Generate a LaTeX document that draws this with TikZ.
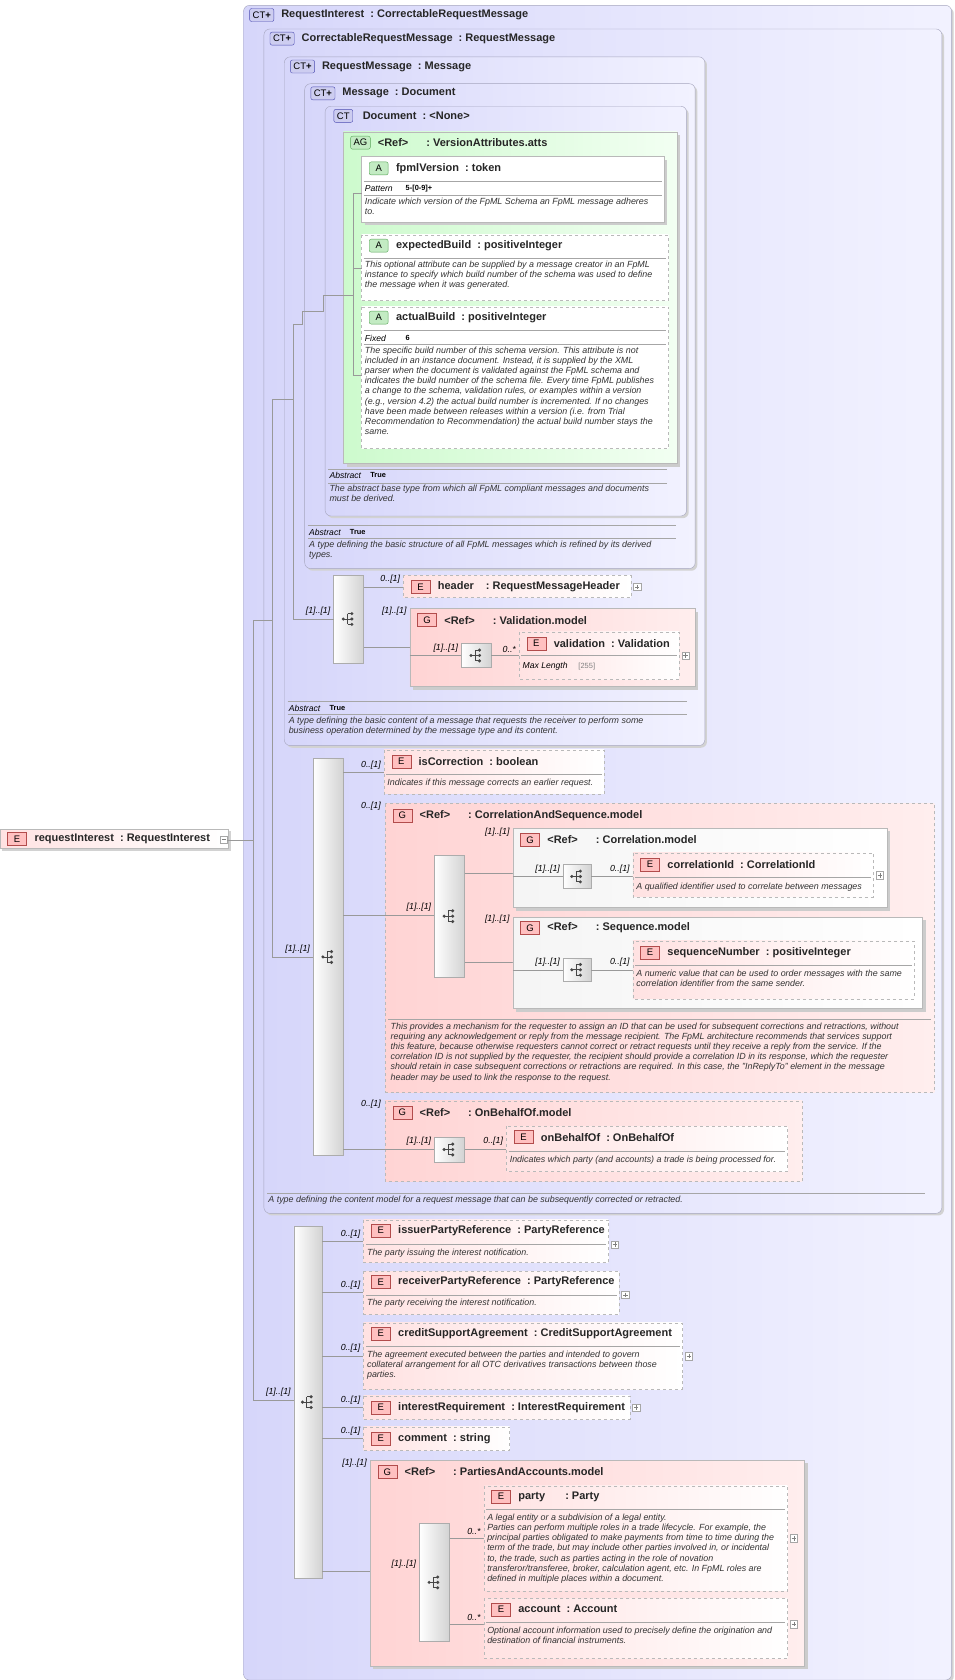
\documentclass[tikz,border=0pt]{standalone}
\usepackage{fontspec}
\setmainfont{Liberation Sans}
\definecolor{ctA}{RGB}{214,214,250}
\definecolor{ctB}{RGB}{242,242,255}
\definecolor{ctline}{RGB}{165,165,190}
\definecolor{ctbadge}{RGB}{205,205,240}
\definecolor{agA}{RGB}{205,250,205}
\definecolor{agB}{RGB}{242,255,242}
\definecolor{grA}{RGB}{255,212,212}
\definecolor{grB}{RGB}{255,238,238}
\definecolor{elA}{RGB}{255,226,226}
\definecolor{ebadge}{RGB}{255,192,192}
\definecolor{abadge}{RGB}{195,235,195}
\definecolor{iconc}{RGB}{70,70,70}
\tikzset{
  ctbg/.style={left color=ctA,right color=ctB,draw=ctline,rounded corners=6pt},
  agbg/.style={left color=agA,right color=agB,draw=gray!55},
  grbg/.style={left color=grA,right color=grB,draw=gray!55},
  grdash/.style={left color=grA,right color=grB,draw=gray!55,dashed},
  wgbg/.style={left color=gray!8,right color=white,draw=gray!55},
  elsolid/.style={left color=elA,right color=white,draw=gray!55},
  eldash/.style={left color=elA,right color=white,draw=gray!55,dashed},
  atsolid/.style={left color=white,right color=white,draw=gray!55},
  atdash/.style={left color=white,right color=white,draw=gray!55,dashed},
  seq/.style={left color=white,right color=gray!35,draw=gray!65},
  link/.style={draw=gray!80,line width=.5pt},
  sep/.style={draw=gray!70,line width=.5pt},
  badge/.style={draw,rounded corners=2pt,inner xsep=3pt,inner ysep=1pt,
    minimum height=13pt,minimum width=19pt,font=\fontsize{9.5}{9.5}\selectfont},
  bCT/.style={fill=ctbadge,draw=gray!60!blue},
  bE/.style={fill=ebadge,draw=red!40!gray,rounded corners=0pt},
  bA/.style={fill=abadge,draw=green!30!gray},
  ttl/.style={anchor=west,inner sep=0pt,font=\bfseries\fontsize{11}{12}\selectfont,text=black!85},
  dsc/.style={anchor=north west,align=left,inner sep=0pt,
    font=\itshape\fontsize{8.9}{10.2}\selectfont,text=black!80},
  card/.style={anchor=south east,inner sep=1pt,font=\itshape\fontsize{8.8}{9}\selectfont},
  key/.style={anchor=west,inner sep=0pt,font=\itshape\fontsize{8.6}{9}\selectfont},
  val/.style={anchor=west,inner sep=0pt,font=\bfseries\fontsize{7.4}{8}\selectfont}
}
\newcommand{\ctbox}[6]{%
\fill[gray!35,rounded corners=6pt] (#1+2,#2+2) rectangle (#3+2,#4+2);
\shade[ctbg] (#1,#2) rectangle (#3,#4);
\node[badge,bCT] at (#1+17,#2+9) {#5};
\node[ttl] at (#1+35,#2+9) {#6};
}
\newcommand{\drawbox}[5]{%
\shade[#1] (#2,#3) rectangle (#4,#5);
}
\newcommand{\shadowbox}[4]{%
\fill[gray!40] (#1+3,#2+3) rectangle (#3+3,#4+3);
}
\newcommand{\boxtitle}[5]{%
\node[badge,#3] at (#1+16,#2) {#4};
\node[ttl] at (#1+32,#2) {#5};
}
\newcommand{\desc}[3]{%
\node[dsc] at (#1,#2-5) {#3};
}
\newcommand{\sepline}[3]{%
\draw[sep] (#1,#3) -- (#2,#3);
}
\newcommand{\prop}[4]{%
\node[key] at (#1,#2) {#3};
\node[val] at (#1+38,#2) {#4};
}
\newcommand{\card}[3]{%
\node[card] at (#1,#2) {#3};
}
\newcommand{\plusbox}[2]{%
\draw[fill=white,draw=gray!70] (#1-3.5,#2-3.5) rectangle ++(7,7);
\draw[gray] (#1-2,#2) -- (#1+2,#2) (#1,#2-2) -- (#1,#2+2);
}
\newcommand{\seqbox}[5]{%
\shade[seq] (#2,#3) rectangle (#4,#5);
\coordinate (#1) at ({(#2+#4)/2},{(#3+#5)/2});
\begin{scope}[shift={(#1)},iconc]
\draw[line width=.8pt] (-5,0) -- (-1,0) (-1,-5) -- (-1,5)
  (-1,-5) -- (3,-5) (-1,0) -- (3,0) (-1,5) -- (3,5);
\fill (-5,0) circle (1.7pt) (3,-5) circle (1.7pt) (3,0) circle (1.7pt) (3,5) circle (1.7pt);
\end{scope}
}
\begin{document}
\begin{tikzpicture}[x=1.073pt,y=-1.073pt]
\useasboundingbox[fill=white] (0,0) rectangle (890,1566);

% complex types
\ctbox{227}{5}{887}{1566}{CT\textbf{+}}{RequestInterest\ \ :\ CorrectableRequestMessage}
\ctbox{246}{27}{878}{1131}{CT\textbf{+}}{CorrectableRequestMessage\ \ :\ RequestMessage}
\ctbox{265}{53}{657}{695}{CT\textbf{+}}{RequestMessage\ \ :\ Message}
\ctbox{284}{78}{648}{530}{CT\textbf{+}}{Message\ \ :\ Document}
\ctbox{303}{99}{640}{481}{CT}{Document\ \ :\ <None>}

% attribute group
\shadowbox{320}{123}{631}{432}
\drawbox{agbg}{320}{123}{631}{432}
\boxtitle{320}{133}{bA}{AG}{<Ref>\hspace{18pt}:\ VersionAttributes.atts}

\shadowbox{337}{146}{619}{207}
\drawbox{atsolid}{337}{146}{619}{207}
\boxtitle{337}{157}{bA}{A}{fpmlVersion\ \ :\ token}
\sepline{339}{617}{169}
\prop{340}{176}{Pattern}{5-[0-9]+}
\sepline{339}{617}{182}
\desc{340}{189}{Indicate which version of the FpML Schema an FpML message adheres\\to.}

\drawbox{atdash}{337}{219}{623}{280}
\boxtitle{337}{229}{bA}{A}{expectedBuild\ \ :\ positiveInteger}
\sepline{339}{621}{241}
\desc{340}{248}{This optional attribute can be supplied by a message creator in an FpML\\instance to specify which build number of the schema was used to define\\the message when it was generated.}

\drawbox{atdash}{337}{286}{623}{418}
\boxtitle{337}{296}{bA}{A}{actualBuild\ \ :\ positiveInteger}
\sepline{339}{621}{308}
\prop{340}{315}{Fixed}{6}
\sepline{339}{621}{321}
\desc{340}{328}{The specific build number of this schema version. This attribute is not\\included in an instance document. Instead, it is supplied by the XML\\parser when the document is validated against the FpML schema and\\indicates the build number of the schema file. Every time FpML publishes\\a change to the schema, validation rules, or examples within a version\\(e.g., version 4.2) the actual build number is incremented. If no changes\\have been made between releases within a version (i.e. from Trial\\Recommendation to Recommendation) the actual build number stays the\\same.}

% attribute links
\draw[link] (301,275) -- (329,275);
\draw[link] (329,180) -- (329,350);
\draw[link] (329,180) -- (337,180) (329,250) -- (337,250) (329,350) -- (337,350);

% abstract notes
\sepline{306}{622}{437}
\prop{307}{443}{Abstract}{True}
\sepline{306}{622}{450}
\desc{307}{457}{The abstract base type from which all FpML compliant messages and documents\\must be derived.}

\sepline{287}{630}{490}
\prop{288}{496}{Abstract}{True}
\sepline{287}{630}{502}
\desc{288}{509}{A type defining the basic structure of all FpML messages which is refined by its derived\\types.}

% request message content
\seqbox{sqRM}{311}{536}{339}{618}
\card{309}{575}{[1]..[1]}
\drawbox{eldash}{376}{536}{588}{557}
\boxtitle{376}{547}{bE}{E}{header\hspace{12pt}:\ RequestMessageHeader}
\plusbox{594}{547}
\card{374}{545}{0..[1]}
\draw[link] (339,547) -- (376,547);

\shadowbox{382}{567}{648}{640}
\drawbox{grbg}{382}{567}{648}{640}
\boxtitle{382}{578}{bE}{G}{<Ref>\hspace{18pt}:\ Validation.model}
\card{380}{575}{[1]..[1]}
\draw[link] (339,603) -- (382,603);
\seqbox{sqVal}{430}{600}{458}{622}
\draw[link] (382,611) -- (430,611) (458,611) -- (484,611);
\card{428}{609}{[1]..[1]}
\card{482}{609}{0..*}
\drawbox{eldash}{484}{589}{633}{633}
\boxtitle{484}{600}{bE}{E}{validation\ \ :\ Validation}
\sepline{486}{631}{611}
\node[key] at (487,621) {Max Length};
\node[key,font=\fontsize{7.5}{8}\selectfont,text=gray] at (539,621) {[255]};
\plusbox{639}{611}

\sepline{268}{640}{654}
\prop{269}{660}{Abstract}{True}
\sepline{268}{640}{666}
\desc{269}{673}{A type defining the basic content of a message that requests the receiver to perform some\\business operation determined by the message type and its content.}

% correctable request message content
\seqbox{sqCRM}{292}{707}{320}{1077}
\card{290}{890}{[1]..[1]}
\draw[link] (320,720) -- (358,720);
\drawbox{eldash}{358}{699}{563}{740}
\boxtitle{358}{710}{bE}{E}{isCorrection\ \ :\ boolean}
\sepline{360}{561}{722}
\desc{361}{731}{Indicates if this message corrects an earlier request.}
\card{356}{718}{0..[1]}

\drawbox{grdash}{359}{749}{871}{1018}
\boxtitle{359}{760}{bE}{G}{<Ref>\hspace{18pt}:\ CorrelationAndSequence.model}
\card{356}{756}{0..[1]}
\draw[link] (320,853) -- (405,853);
\card{403}{851}{[1]..[1]}
\seqbox{sqCS}{405}{797}{433}{911}
\draw[link] (433,814) -- (478,814) (433,897) -- (478,897);

\shadowbox{478}{772}{827}{846}
\drawbox{wgbg}{478}{772}{827}{846}
\boxtitle{478}{783}{bE}{G}{<Ref>\hspace{18pt}:\ Correlation.model}
\card{476}{781}{[1]..[1]}
\seqbox{sqCor}{525}{806}{551}{828}
\draw[link] (478,817) -- (525,817) (551,817) -- (590,817);
\card{523}{815}{[1]..[1]}
\card{588}{815}{0..[1]}
\drawbox{eldash}{590}{795}{814}{836}
\boxtitle{590}{806}{bE}{E}{correlationId\ \ :\ CorrelationId}
\sepline{592}{812}{818}
\desc{593}{828}{A qualified identifier used to correlate between messages}
\plusbox{820}{816}

\shadowbox{478}{855}{860}{940}
\drawbox{wgbg}{478}{855}{860}{940}
\boxtitle{478}{865}{bE}{G}{<Ref>\hspace{18pt}:\ Sequence.model}
\card{476}{862}{[1]..[1]}
\seqbox{sqSeq}{525}{893}{551}{915}
\draw[link] (478,904) -- (525,904) (551,904) -- (590,904);
\card{523}{902}{[1]..[1]}
\card{588}{902}{0..[1]}
\drawbox{eldash}{590}{877}{852}{931}
\boxtitle{590}{888}{bE}{E}{sequenceNumber\ \ :\ positiveInteger}
\sepline{592}{850}{900}
\desc{593}{909}{A numeric value that can be used to order messages with the same\\correlation identifier from the same sender.}

\sepline{362}{868}{950}
\desc{364}{958}{This provides a mechanism for the requester to assign an ID that can be used for subsequent corrections and retractions, without\\requiring any acknowledgement or reply from the message recipient. The FpML architecture recommends that services support\\this feature, because otherwise requesters cannot correct or retract requests until they receive a reply from the service. If the\\correlation ID is not supplied by the requester, the recipient should provide a correlation ID in its response, which the requester\\should retain in case subsequent corrections or retractions are required. In this case, the "InReplyTo" element in the message\\header may be used to link the response to the request.}

\drawbox{grdash}{359}{1026}{748}{1101}
\boxtitle{359}{1037}{bE}{G}{<Ref>\hspace{18pt}:\ OnBehalfOf.model}
\card{356}{1034}{0..[1]}
\draw[link] (320,1071) -- (405,1071) (433,1071) -- (472,1071);
\card{403}{1069}{[1]..[1]}
\card{470}{1069}{0..[1]}
\seqbox{sqObo}{405}{1060}{433}{1083}
\drawbox{eldash}{472}{1050}{734}{1092}
\boxtitle{472}{1060}{bE}{E}{onBehalfOf\ \ :\ OnBehalfOf}
\sepline{474}{732}{1073}
\desc{475}{1082}{Indicates which party (and accounts) a trade is being processed for.}

\sepline{249}{862}{1112}
\desc{250}{1120}{A type defining the content model for a request message that can be subsequently corrected or retracted.}

% request interest content
\seqbox{sqRI}{274}{1143}{300}{1471}
\card{272}{1303}{[1]..[1]}
\draw[link] (300,1157) -- (339,1157) (300,1205) -- (339,1205) (300,1264) -- (339,1264)
  (300,1312) -- (339,1312) (300,1341) -- (339,1341) (300,1465) -- (391,1465);

\drawbox{eldash}{339}{1137}{567}{1177}
\boxtitle{339}{1147}{bE}{E}{issuerPartyReference\ \ :\ PartyReference}
\sepline{341}{565}{1160}
\desc{342}{1169}{The party issuing the interest notification.}
\plusbox{573}{1160}
\card{337}{1155}{0..[1]}

\drawbox{eldash}{339}{1185}{577}{1225}
\boxtitle{339}{1195}{bE}{E}{receiverPartyReference\ \ :\ PartyReference}
\sepline{341}{575}{1207}
\desc{342}{1216}{The party receiving the interest notification.}
\plusbox{583}{1207}
\card{337}{1203}{0..[1]}

\drawbox{eldash}{339}{1233}{636}{1295}
\boxtitle{339}{1243}{bE}{E}{creditSupportAgreement\ \ :\ CreditSupportAgreement}
\sepline{341}{634}{1255}
\desc{342}{1264}{The agreement executed between the parties and intended to govern\\collateral arrangement for all OTC derivatives transactions between those\\parties.}
\plusbox{642}{1264}
\card{337}{1262}{0..[1]}

\drawbox{eldash}{339}{1301}{587}{1323}
\boxtitle{339}{1312}{bE}{E}{interestRequirement\ \ :\ InterestRequirement}
\plusbox{593}{1312}
\card{337}{1310}{0..[1]}

\drawbox{eldash}{339}{1330}{475}{1352}
\boxtitle{339}{1341}{bE}{E}{comment\ \ :\ string}
\card{337}{1339}{0..[1]}

\shadowbox{345}{1361}{750}{1553}
\drawbox{grbg}{345}{1361}{750}{1553}
\boxtitle{345}{1372}{bE}{G}{<Ref>\hspace{18pt}:\ PartiesAndAccounts.model}
\card{343}{1369}{[1]..[1]}
\card{389}{1463}{[1]..[1]}
\seqbox{sqPA}{391}{1420}{419}{1530}
\draw[link] (419,1434) -- (451,1434) (419,1514) -- (451,1514);
\card{449}{1432}{0..*}
\card{449}{1512}{0..*}

\drawbox{eldash}{451}{1385}{734}{1483}
\boxtitle{451}{1395}{bE}{E}{party\hspace{20pt}:\ Party}
\sepline{453}{732}{1407}
\desc{454}{1416}{A legal entity or a subdivision of a legal entity.\\Parties can perform multiple roles in a trade lifecycle. For example, the\\principal parties obligated to make payments from time to time during the\\term of the trade, but may include other parties involved in, or incidental\\to, the trade, such as parties acting in the role of novation\\transferor/transferee, broker, calculation agent, etc. In FpML roles are\\defined in multiple places within a document.}
\plusbox{740}{1434}

\drawbox{eldash}{451}{1490}{734}{1546}
\boxtitle{451}{1500}{bE}{E}{account\ \ :\ Account}
\sepline{453}{732}{1512}
\desc{454}{1521}{Optional account information used to precisely define the origination and\\destination of financial instruments.}
\plusbox{740}{1514}

% tree links
\draw[link] (282,290) -- (301,290) -- (301,275);
\draw[link] (273,302) -- (282,302) -- (282,290);
\draw[link] (254,372) -- (273,372);
\draw[link] (273,302) -- (273,577) -- (sqRM -| 311,0);
\draw[link] (236,578) -- (254,578);
\draw[link] (254,372) -- (254,892) -- (292,892);
\draw[link] (236,578) -- (236,1305) -- (274,1305);

% root element
\fill[gray!35] (2,775) rectangle (215,793);
\drawbox{elsolid}{0}{773}{213}{791}
\boxtitle{0}{782}{bE}{E}{requestInterest\ \ :\ RequestInterest}
\draw[fill=white,draw=gray!70] (205,779) rectangle ++(7,7);
\draw[gray] (206.5,782.5) -- (210.5,782.5);
\draw[link] (212,783) -- (236,783);
\end{tikzpicture}
\end{document}
